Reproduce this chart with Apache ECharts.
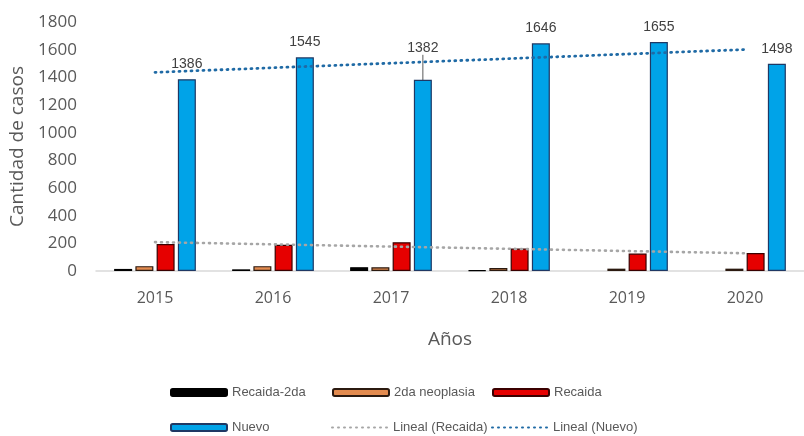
<!DOCTYPE html>
<html>
<head>
<meta charset="utf-8">
<script src="https://cdn.jsdelivr.net/npm/echarts@6/dist/echarts.min.js"></script>
<style>html,body{margin:0;padding:0;background:#fff;}#c{width:804px;height:436px;}</style>
</head>
<body>
<div id="c"></div>
<script>
var years = ['2015', '2016', '2017', '2018', '2019', '2020'];
var recaida2da = [15, 12, 28, 5, null, null];
var neoplasia2da = [35, 35, 27, 22, 17, 17];
var recaida = [195, 190, 208, 162, 126, 130];
var nuevo = [1386, 1545, 1382, 1646, 1655, 1498];
var yTicks = [0, 200, 400, 600, 800, 1000, 1200, 1400, 1600, 1800];

function linearTrend(arr) {
  var n = arr.length, mx = (n - 1) / 2, my = 0, sxy = 0, sxx = 0;
  arr.forEach(function (v) { my += v; });
  my /= n;
  arr.forEach(function (v, i) { sxy += (i - mx) * (v - my); sxx += (i - mx) * (i - mx); });
  var b = sxy / sxx, a = my - b * mx;
  return arr.map(function (v, i) { return +(a + b * i).toFixed(2); });
}

var txt = '#595959';
var narrow = '"Liberation Sans Narrow", "Liberation Sans", Arial, sans-serif';
var chart = echarts.init(document.getElementById('c'), null, {renderer: 'canvas'});

function barSeries(name, data, color, border) {
  return {
    name: name, type: 'bar', data: data,
    barWidth: 18, barGap: '18%',
    itemStyle: {color: color, borderColor: border, borderWidth: 1.2}
  };
}

var nuevoData = nuevo.map(function (v, i) {
  if (i === 2) { return {value: v, labelLine: {show: true}}; }
  return v;
});
var nuevoSeries = barSeries('Nuevo', nuevoData, '#00A3E8', '#1F3864');
nuevoSeries.label = {
  show: true, position: 'top', distance: 8,
  color: '#404040', fontSize: 14, fontFamily: narrow
};
nuevoSeries.labelLayout = function (p) {
  if (p.dataIndex === 2) { return {dy: -17}; }
  return {};
};
nuevoSeries.labelLine = {show: false, lineStyle: {color: '#595959', width: 1}};

function legendItem(name, left, top, isLine) {
  var l = {
    left: left, top: top, itemWidth: 56, itemHeight: 7, padding: 0,
    textStyle: {color: txt, fontSize: 13, fontFamily: narrow},
    data: [name]
  };
  if (isLine) {
    l.itemStyle = {opacity: 0};
    l.itemWidth = 56;
  }
  return l;
}

var option = {
  animation: false,
  backgroundColor: '#fff',
  grid: {left: 96, right: -7, top: 22, bottom: 165},
  xAxis: {
    type: 'category', data: years,
    name: 'Años', nameLocation: 'middle', nameGap: 59,
    nameTextStyle: {color: txt, fontSize: 19, fontFamily: '"Open Sans", sans-serif'},
    axisLine: {lineStyle: {color: '#D9D9D9', width: 1.5}},
    axisTick: {show: false},
    axisLabel: {color: txt, fontSize: 16, margin: 19, fontFamily: '"Open Sans", sans-serif'}
  },
  yAxis: {
    type: 'value', min: yTicks[0], max: yTicks[yTicks.length - 1], interval: 200,
    name: 'Cantidad de casos', nameLocation: 'middle', nameGap: 64,
    nameTextStyle: {color: txt, fontSize: 19, fontFamily: '"Open Sans", sans-serif'},
    axisLine: {show: false}, axisTick: {show: false},
    splitLine: {show: false},
    axisLabel: {color: txt, fontSize: 17, margin: 19, fontFamily: '"Open Sans", sans-serif',
      formatter: function (v) { return String(v); }}
  },
  legend: [
    legendItem('Recaida-2da', 170, 386),
    legendItem('2da neoplasia', 332, 386),
    legendItem('Recaida', 492, 386),
    legendItem('Nuevo', 170, 421),
    legendItem('Lineal (Recaida)', 331, 421, true),
    legendItem('Lineal (Nuevo)', 491, 421, true)
  ],
  series: [
    barSeries('Recaida-2da', recaida2da, '#000000', '#000000'),
    barSeries('2da neoplasia', neoplasia2da, '#E38B4F', '#2b1a10'),
    barSeries('Recaida', recaida, '#E60000', '#3a0000'),
    nuevoSeries,
    {
      name: 'Lineal (Recaida)', type: 'line', data: linearTrend(recaida),
      symbol: 'none', z: 5,
      lineStyle: {color: '#A6A6A6', width: 2.6, type: [1, 5], cap: 'round'},
      itemStyle: {color: '#A6A6A6'}
    },
    {
      name: 'Lineal (Nuevo)', type: 'line', data: linearTrend(nuevo),
      symbol: 'none', z: 5,
      lineStyle: {color: '#1F6AA5', width: 2.8, type: [1, 5], cap: 'round'},
      itemStyle: {color: '#1F6AA5'}
    }
  ]
};
chart.setOption(option);
</script>
</body>
</html>
